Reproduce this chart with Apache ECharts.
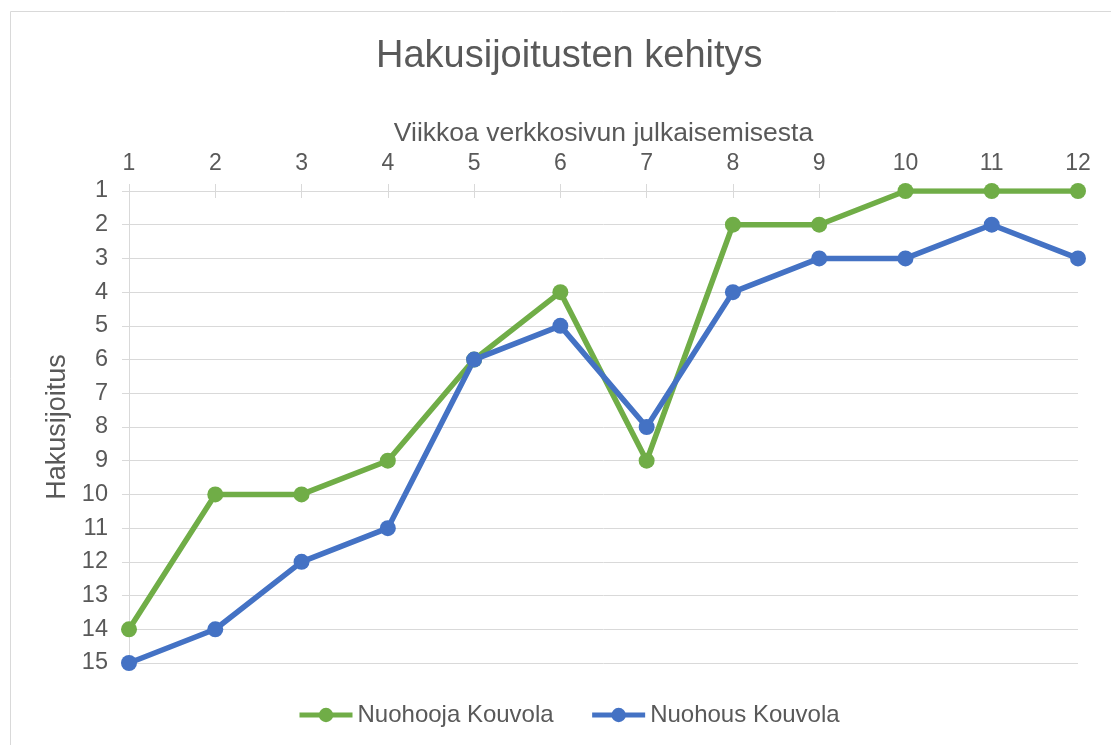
<!DOCTYPE html>
<html>
<head>
<meta charset="utf-8">
<title>Hakusijoitusten kehitys</title>
<script src="https://cdn.jsdelivr.net/npm/echarts@6/dist/echarts.min.js"></script>
<style>
  html, body { margin: 0; padding: 0; background: #fff; }
  #chart { width: 1111px; height: 745px; }
</style>
</head>
<body>
<div id="chart"></div>
<script>
  // viikot julkaisusta
  const weeks = ['1', '2', '3', '4', '5', '6', '7', '8', '9', '10', '11', '12'];
  const rankTicks = [1, 15];
  const nuohooja = [14, 10, 10, 9, 6, 4, 9, 2, 2, 1, 1, 1];
  const nuohous = [15, 14, 12, 11, 6, 5, 8, 4, 3, 3, 2, 3];

  const font = 'Liberation Sans, Arial, sans-serif';
  const txt = '#595959';
  const gridCol = '#d9d9d9';

  let chart = echarts.init(document.getElementById('chart'));
  let option = {
    animation: false,
    textStyle: { fontFamily: font },
    title: {
      text: 'Hakusijoitusten kehitys',
      left: 371,
      top: 33,
      textStyle: { fontFamily: font, fontSize: 38, fontWeight: 'normal', color: txt }
    },
    graphic: [{
      type: 'rect',
      shape: { x: 10.5, y: 11.5, width: 1200, height: 800 },
      style: { fill: 'none', stroke: gridCol, lineWidth: 1 },
      silent: true
    }],
    legend: {
      left: 292,
      top: 698,
      itemWidth: 53,
      itemHeight: 18,
      itemGap: 36,
      lineStyle: { width: 5 },
      textStyle: { fontFamily: font, fontSize: 24, color: txt },
      data: ['Nuohooja Kouvola', 'Nuohous Kouvola']
    },
    grid: { left: 129, right: 33, top: 191, bottom: 82 },
    xAxis: [{
      type: 'category',
      position: 'top',
      boundaryGap: false,
      data: weeks,
      name: 'Viikkoa verkkosivun julkaisemisesta',
      nameLocation: 'middle',
      nameGap: 44,
      nameTextStyle: { fontFamily: font, fontSize: 26.5, color: txt },
      axisLine: { lineStyle: { color: gridCol, width: 1 } },
      axisTick: { inside: true, length: 7, lineStyle: { color: gridCol } },
      axisLabel: { margin: 16, fontSize: 23, color: txt, fontFamily: font },
      splitLine: { show: false }
    }, {
      type: 'category',
      position: 'top',
      boundaryGap: false,
      data: weeks,
      axisLine: { show: false },
      axisTick: { length: 7, lineStyle: { color: gridCol } },
      axisLabel: { show: false },
      splitLine: { show: false }
    }],
    yAxis: {
      type: 'value',
      inverse: true,
      min: rankTicks[0],
      max: rankTicks[1],
      interval: 1,
      name: 'Hakusijoitus',
      nameLocation: 'middle',
      nameGap: 53,
      nameTextStyle: { fontFamily: font, fontSize: 27, color: txt },
      axisLine: { show: true, lineStyle: { color: gridCol, width: 1 } },
      axisTick: { show: true, length: 7, lineStyle: { color: gridCol } },
      axisLabel: { margin: 21, fontSize: 23.5, color: txt, fontFamily: font },
      splitLine: { lineStyle: { color: gridCol, width: 1 } }
    },
    series: [{
      name: 'Nuohooja Kouvola',
      type: 'line',
      data: nuohooja,
      symbol: 'circle',
      symbolSize: 16,
      color: '#70AD47',
      lineStyle: { width: 5.5, color: '#70AD47' },
      itemStyle: { color: '#70AD47' }
    }, {
      name: 'Nuohous Kouvola',
      type: 'line',
      data: nuohous,
      symbol: 'circle',
      symbolSize: 16,
      color: '#4472C4',
      lineStyle: { width: 5.5, color: '#4472C4' },
      itemStyle: { color: '#4472C4' }
    }]
  };
  chart.setOption(option);
</script>
</body>
</html>
